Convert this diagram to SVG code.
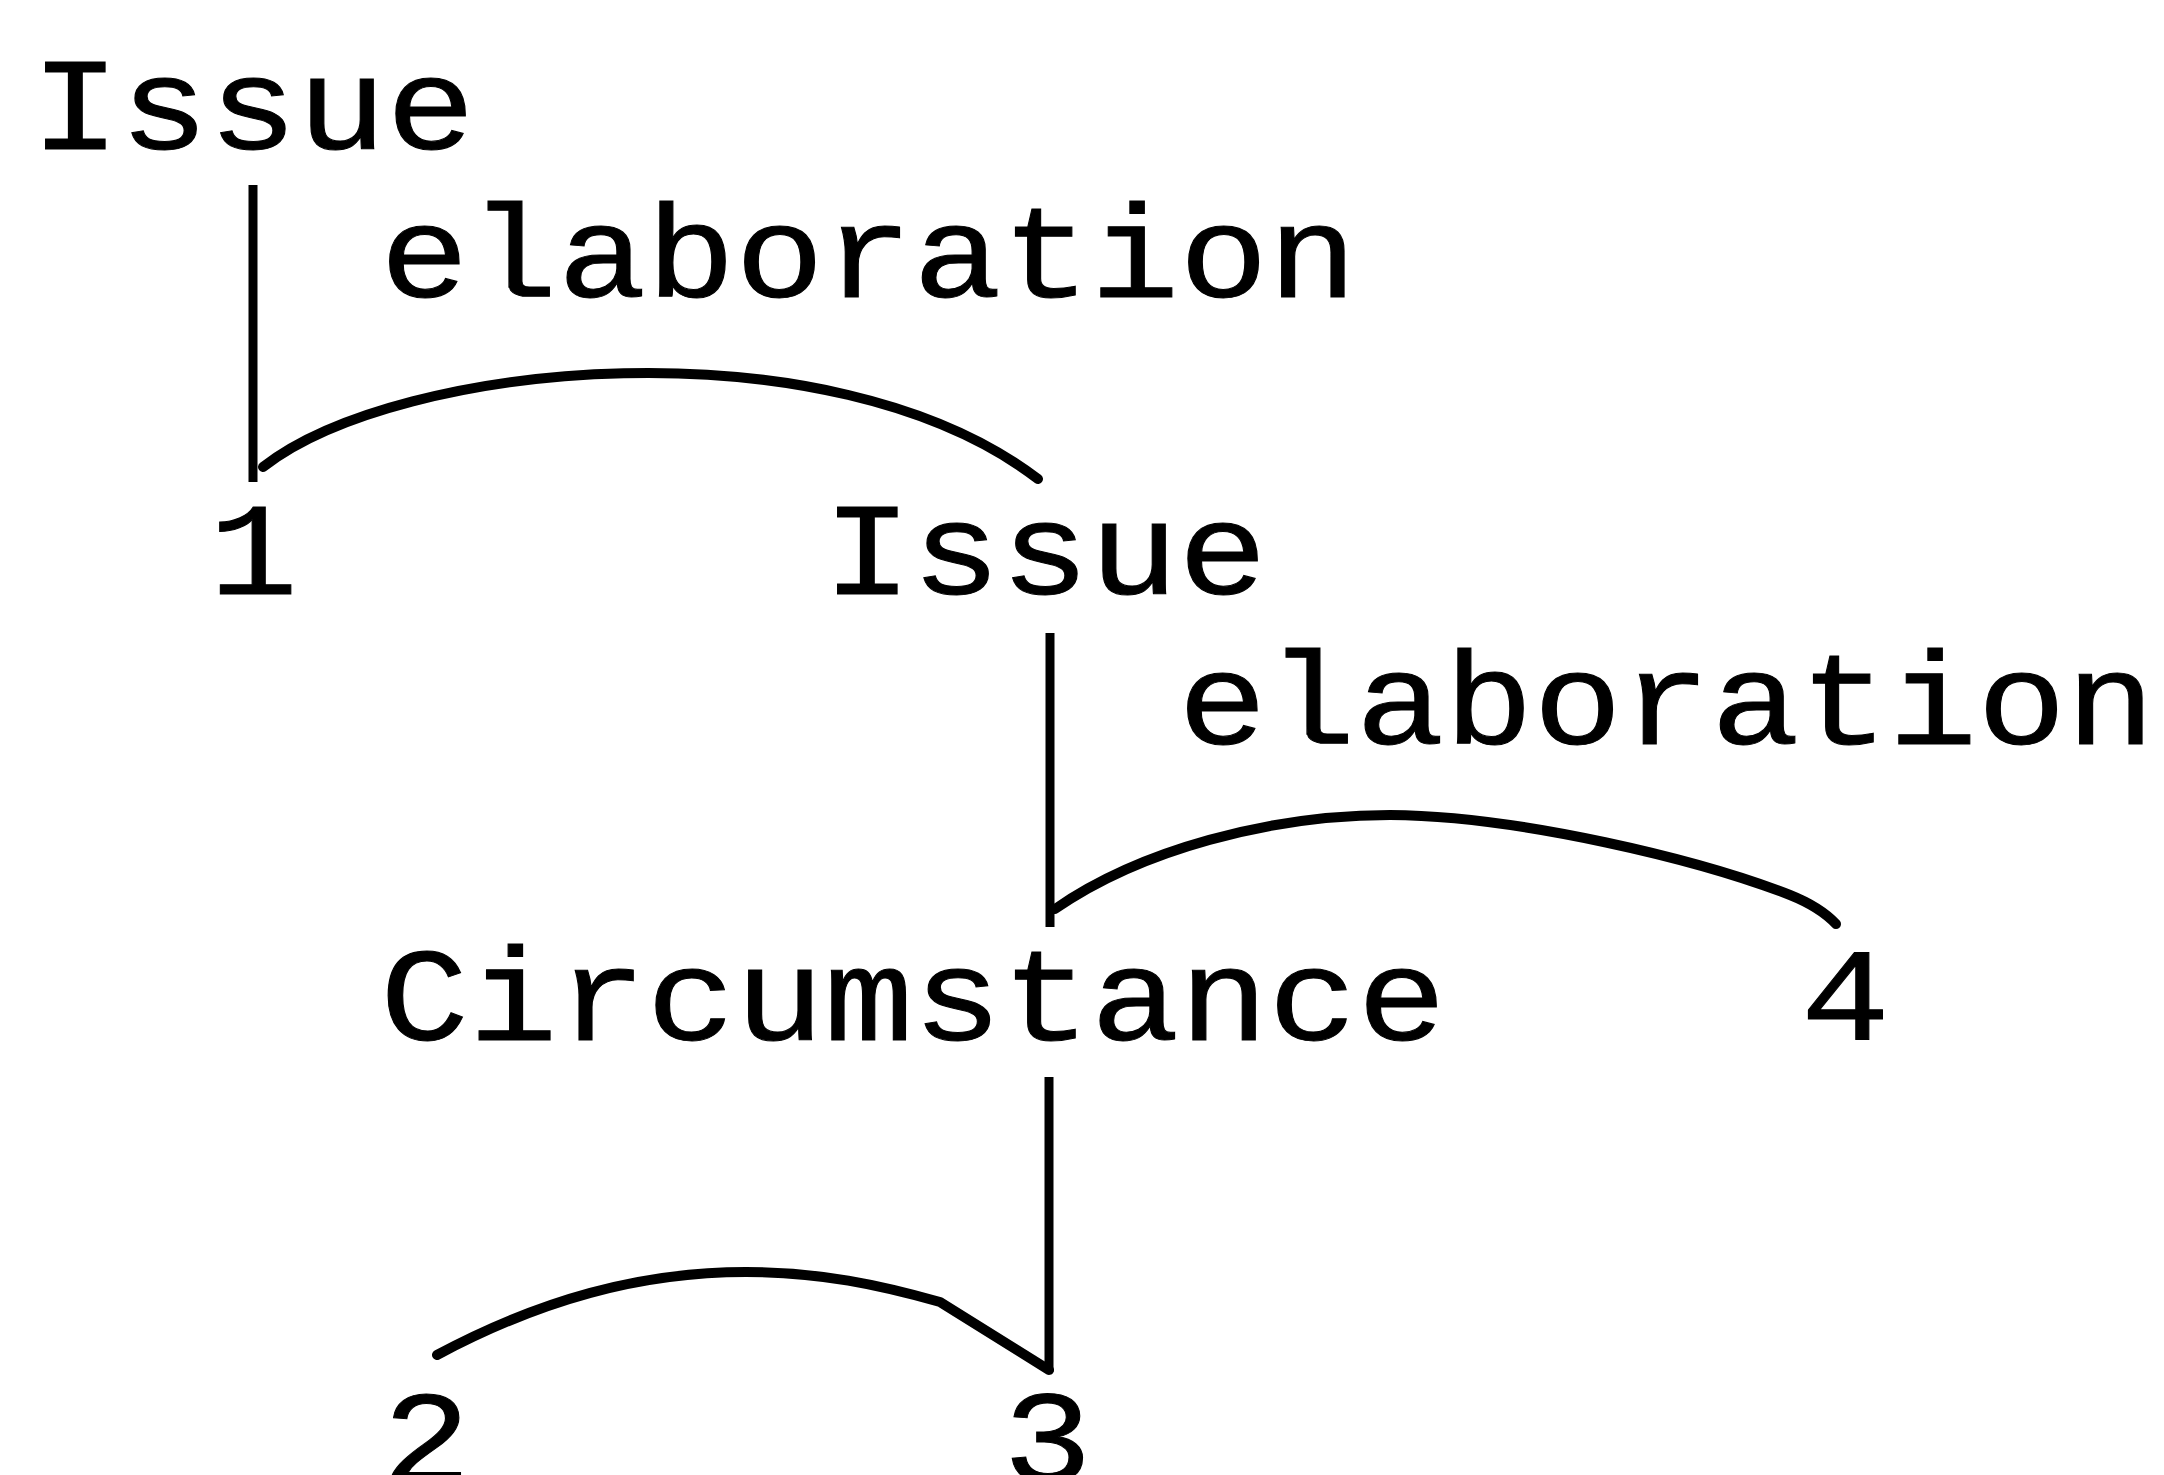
<svg xmlns="http://www.w3.org/2000/svg" width="2164" height="1475" viewBox="0 0 2164 1475">
<style>
  text { font-family: "Liberation Mono", "Courier New", monospace; font-size: 132px; fill: #000; stroke: #000; stroke-width: 1px; }
  .ln { stroke: #000; stroke-width: 9; fill: none; }
  .cv { stroke: #000; stroke-width: 10; fill: none; stroke-linecap: round; stroke-linejoin: round; }
</style>
<rect width="2164" height="1475" fill="#fff"/>
<g id="connectors">
  <line class="ln" x1="253" y1="185" x2="253" y2="482"/>
  <path class="cv" d="M263,467 C400,360 830,320 1038,479"/>
  <line class="ln" x1="1050" y1="633" x2="1050" y2="927"/>
  <path class="cv" d="M1055,909 C1140,850 1270,815 1390,815 C1520,816 1700,860 1790,895 Q1820,907 1836,924"/>
  <line class="ln" x1="1049" y1="1077" x2="1049" y2="1372"/>
  <path class="cv" d="M437,1355 C540,1300 640,1272 746,1272 C820,1272 880,1285 940,1302 L1049,1370"/>
</g>
<g id="node-issue-top"><text x="31" y="149" textLength="444" lengthAdjust="spacingAndGlyphs">Issue</text></g>
<g id="label-elaboration-1"><text x="380" y="297" textLength="977" lengthAdjust="spacingAndGlyphs">elaboration</text></g>
<g id="node-1"><text x="209" y="594" textLength="89" lengthAdjust="spacingAndGlyphs">1</text></g>
<g id="node-issue-mid"><text x="823" y="594" textLength="444" lengthAdjust="spacingAndGlyphs">Issue</text></g>
<g id="label-elaboration-2"><text x="1178" y="744" textLength="977" lengthAdjust="spacingAndGlyphs">elaboration</text></g>
<g id="node-circumstance"><text x="380" y="1040" textLength="1066" lengthAdjust="spacingAndGlyphs">Circumstance</text></g>
<g id="node-4"><text x="1801" y="1040" textLength="89" lengthAdjust="spacingAndGlyphs">4</text></g>
<g id="node-2"><text x="382" y="1482" textLength="89" lengthAdjust="spacingAndGlyphs">2</text></g>
<g id="node-3"><text x="1003" y="1482" textLength="89" lengthAdjust="spacingAndGlyphs">3</text></g>
</svg>
